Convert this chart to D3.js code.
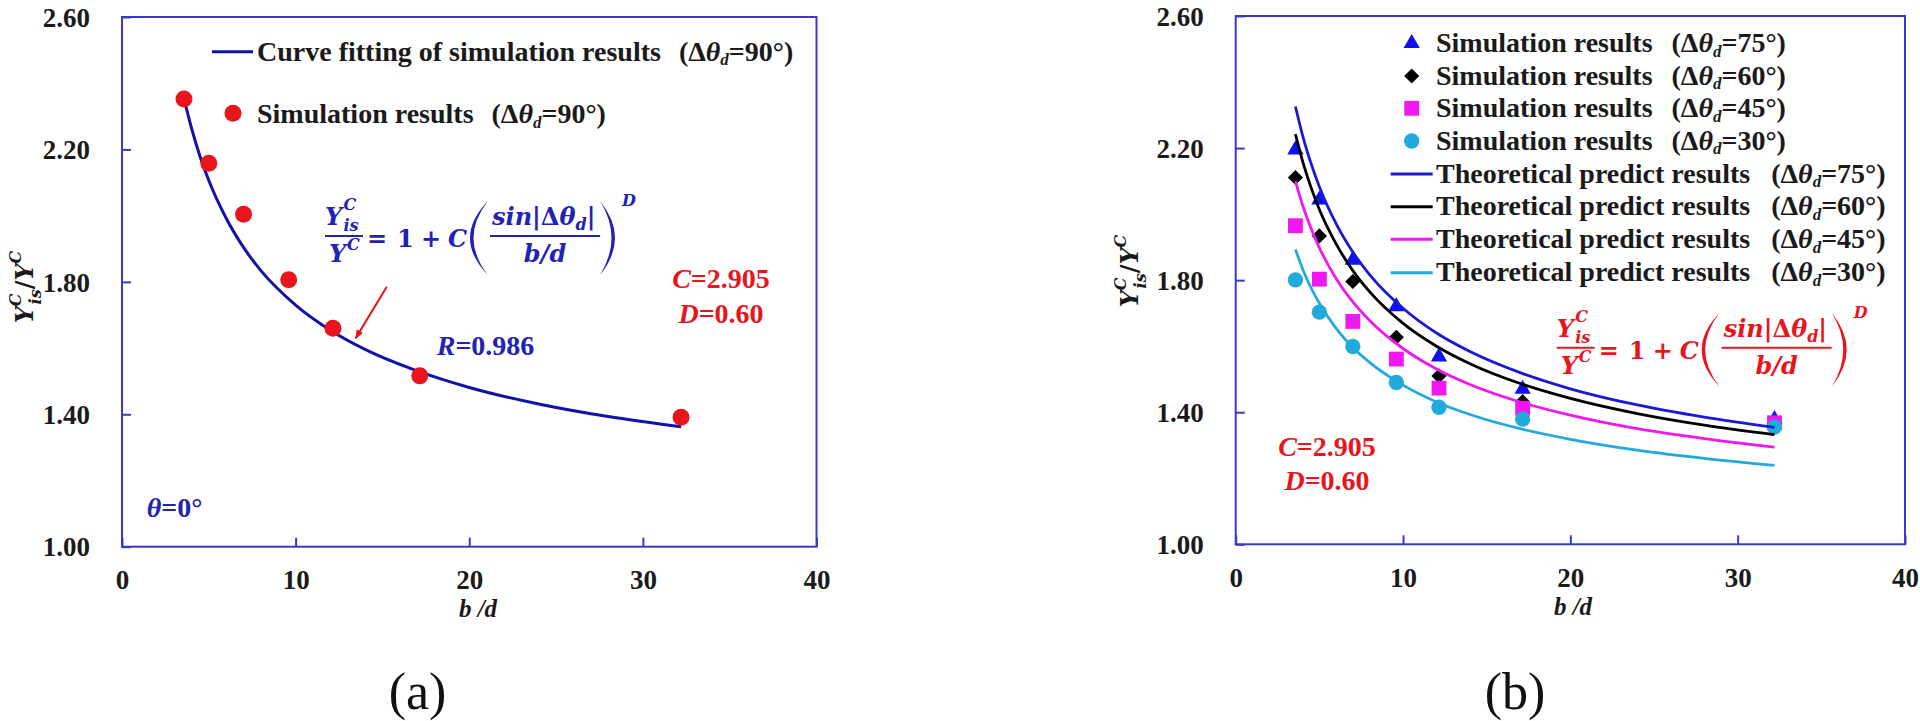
<!DOCTYPE html>
<html><head><meta charset="utf-8">
<script src="https://cdn.jsdelivr.net/npm/d3@7"></script>
<style>body{margin:0;background:#fff;} svg{display:block}</style>
</head><body>
<svg id="c" width="1920" height="721"></svg>
<script>
// ---------- data ----------
const bdSim = [3.57, 5.0, 7.0, 9.6, 12.15, 17.15, 32.2];
const sim90 = [2.352, 2.158, 2.004, 1.806, 1.660, 1.516, 1.391];
const sim75 = [2.195, 2.043, 1.861, 1.720, 1.568, 1.470, 1.378];
const sim60 = [2.111, 1.934, 1.796, 1.627, 1.510, 1.432, 1.365];
const sim45 = [1.965, 1.803, 1.675, 1.561, 1.473, 1.412, 1.368];
const sim30 = [1.801, 1.703, 1.599, 1.490, 1.415, 1.379, 1.355];
const bdFit = [3.57, 4, 4.5, 5, 6, 7, 8, 10, 12, 14, 17, 20, 24, 28, 32.2];
const fit90  = [2.354, 2.265, 2.178, 2.106, 1.992, 1.904, 1.834, 1.730, 1.654, 1.596, 1.531, 1.481, 1.431, 1.393, 1.362];
const theo75 = [2.326, 2.238, 2.154, 2.083, 1.971, 1.885, 1.817, 1.715, 1.640, 1.584, 1.520, 1.471, 1.422, 1.385, 1.354];
const theo60 = [2.242, 2.160, 2.081, 2.014, 1.910, 1.829, 1.765, 1.669, 1.600, 1.547, 1.487, 1.442, 1.396, 1.361, 1.332];
const theo45 = [2.100, 2.027, 1.957, 1.898, 1.805, 1.734, 1.678, 1.593, 1.531, 1.484, 1.431, 1.391, 1.350, 1.320, 1.294];
const theo30 = [1.893, 1.834, 1.777, 1.730, 1.654, 1.596, 1.551, 1.482, 1.431, 1.393, 1.350, 1.318, 1.285, 1.260, 1.239];
const xTicks = [0, 10, 20, 30, 40];
const yTicks = [1.0, 1.4, 1.8, 2.2, 2.6];
const angles = ["75", "60", "45", "30"];

// ---------- style ----------
const svg = d3.select('#c');
const serif = '"Liberation Serif","Times New Roman",serif';
const math = '"DejaVu Serif",serif';
const axisColor = '#3a3ac4';
const blueDark = '#1212aa';
const blueText = '#2222b4';
const red = '#e8161c';
const col75 = '#1a1ad0', col60 = '#000000', col45 = '#f018f0', col30 = '#22aadd';
const mk75 = '#1010f0';

svg.append('defs').append('marker').attr('id','arr').attr('viewBox','0 0 10 10')
  .attr('refX',9).attr('refY',5).attr('markerWidth',9).attr('markerHeight',9).attr('markerUnits','userSpaceOnUse')
  .attr('orient','auto').append('path').attr('d','M0,1 L10,5 L0,9 Z').attr('fill',red);

function panel(c) {
  const x = d3.scaleLinear().domain([0, 40]).range([c.x0, c.x1]);
  const y = d3.scaleLinear().domain([1, 2.6]).range([c.y1, c.y0]);
  const g = svg.append('g');
  g.append('rect').attr('x', c.x0).attr('y', c.y0).attr('width', c.x1 - c.x0).attr('height', c.y1 - c.y0)
    .attr('fill', 'none').attr('stroke', axisColor).attr('stroke-width', 2);
  const ax = g.append('g').attr('transform', `translate(0,${c.y1})`)
    .call(d3.axisBottom(x).tickValues(xTicks).tickSizeInner(-9).tickSizeOuter(0).tickFormat(d3.format('d')));
  ax.select('.domain').remove();
  ax.selectAll('line').attr('stroke', axisColor).attr('stroke-width', 2);
  ax.selectAll('text').attr('y', c.xLabBase - c.y1).attr('dy', 0)
    .style('font-family', serif).style('font-weight', 'bold').style('font-size', '27px').attr('fill', '#1a1a1a');
  const ay = g.append('g').attr('transform', `translate(${c.x0},0)`)
    .call(d3.axisLeft(y).tickValues(yTicks).tickSizeInner(-9).tickSizeOuter(0).tickPadding(32).tickFormat(d3.format('.2f')));
  ay.select('.domain').remove();
  ay.selectAll('line').attr('stroke', axisColor).attr('stroke-width', 2);
  ay.selectAll('text').attr('x', -32).attr('dy', '0.34em')
    .style('font-family', serif).style('font-weight', 'bold').style('font-size', '27px').attr('fill', '#1a1a1a');
  // axis titles
  g.append('text').attr('x', c.xTitleX).attr('y', c.xTitleY).attr('text-anchor', 'middle')
    .style('font-family', serif).style('font-weight', 'bold').style('font-style', 'italic').style('font-size', '25px')
    .attr('fill', '#1a1a1a').text('b /d');
  const yt = g.append('text').attr('transform', `translate(${c.yTitleX},${c.yTitleY}) rotate(-90)`)
    .attr('text-anchor', 'middle').attr('fill', '#1a1a1a')
    .style('font-family', math).style('font-weight', 'bold').style('font-style', 'italic').style('font-size', '24px');
  yt.append('tspan').text('Y');
  yt.append('tspan').attr('dy', -12).style('font-size', '16px').text('C');
  yt.append('tspan').attr('dx', -11).attr('dy', 20).style('font-size', '16px').text('is');
  yt.append('tspan').attr('dy', -8).style('font-style','normal').text('/');
  yt.append('tspan').text('Y');
  yt.append('tspan').attr('dy', -12).style('font-size', '16px').text('C');
  // panel label
  g.append('text').attr('x', c.labX).attr('y', 709).attr('text-anchor', 'middle')
    .style('font-family', serif).style('font-size', '52px').attr('fill', '#111').text(c.lab);
  return {g, x, y};
}

function parenText(g, x, yb, ang, size) {
  const t = g.append('text').attr('x', x).attr('y', yb).attr('fill', '#1a1a1a')
    .style('font-family', serif).style('font-weight', 'bold').style('font-size', size + 'px');
  t.append('tspan').text('(Δ');
  t.append('tspan').style('font-style', 'italic').text('θ');
  t.append('tspan').style('font-style', 'italic').style('font-size', '17px').attr('dy', 4.5).text('d');
  t.append('tspan').attr('dx', 0).attr('dy', -4.5).text('=' + ang + '°)');
  return t;
}
function legendRow(g, x, yb, label, ang, gap) {
  const t = g.append('text').attr('x', x).attr('y', yb).attr('fill', '#1a1a1a')
    .style('font-family', serif).style('font-weight', 'bold').style('font-size', '28px').text(label);
  const w = t.node().getComputedTextLength();
  parenText(g, x + w + gap, yb, ang, 28);
}

function equation(g, x0, y0, color) {
  const e = g.append('g').attr('fill', color).style('font-family', math).style('font-weight', 'bold');
  const t = (dx, dy, s, size, italic, anchor) => e.append('text').attr('x', x0 + dx).attr('y', y0 + dy)
    .attr('text-anchor', anchor || 'start')
    .style('font-size', size + 'px').style('font-style', italic ? 'italic' : 'normal').text(s);
  t(0, -10, 'Y', 24, true); t(18.5, -25, 'C', 16, true); t(18.5, -4, 'is', 16, true);
  e.append('line').attr('x1', x0).attr('x2', x0 + 38).attr('y1', y0 + 1).attr('y2', y0 + 1).attr('stroke', color).attr('stroke-width', 2);
  t(4, 27, 'Y', 24, true); t(22, 15, 'C', 16, true);
  t(42, 12, '=', 24, false); t(72, 12, '1', 24, false); t(96, 12, '+', 24, false); t(123, 12, 'C', 24, true);
  const top = y0 - 34, bot = y0 + 40, mid = y0 + 3;
  e.append('path').attr('d', `M${x0+163},${top} Q${x0+127},${mid} ${x0+163},${bot} Q${x0+134},${mid} ${x0+163},${top} Z`);
  e.append('path').attr('d', `M${x0+275},${top} Q${x0+305},${mid} ${x0+275},${bot} Q${x0+298},${mid} ${x0+275},${top} Z`);
  const n = e.append('text').attr('x', x0 + 167).attr('y', y0 - 10).style('font-size', '24px');
  n.append('tspan').style('font-style', 'italic').text('sin');
  n.append('tspan').text('|Δ');
  n.append('tspan').style('font-style', 'italic').text('θ');
  n.append('tspan').style('font-style', 'italic').style('font-size', '16px').attr('dy', 5).text('d');
  n.append('tspan').attr('dy', -5).text('|');
  e.append('line').attr('x1', x0 + 165).attr('x2', x0 + 275).attr('y1', y0 + 1).attr('y2', y0 + 1).attr('stroke', color).attr('stroke-width', 2);
  t(220, 27, 'b/d', 24, true, 'middle');
  t(297, -29, 'D', 16, true);
}

function cd(g, cx, y1, y2) {
  const a = g.append('text').attr('x', cx).attr('y', y1).attr('text-anchor', 'middle').attr('fill', red)
    .style('font-family', serif).style('font-weight', 'bold').style('font-size', '28px');
  a.append('tspan').style('font-style', 'italic').text('C'); a.append('tspan').text('=2.905');
  const b = g.append('text').attr('x', cx).attr('y', y2).attr('text-anchor', 'middle').attr('fill', red)
    .style('font-family', serif).style('font-weight', 'bold').style('font-size', '28px');
  b.append('tspan').style('font-style', 'italic').text('D'); b.append('tspan').text('=0.60');
}

// ---------- panel (a) ----------
const A = panel({x0: 122, x1: 816.5, y0: 17, y1: 546.7, xLabBase: 589, xTitleX: 478, xTitleY: 617,
  yTitleX: 33, yTitleY: 287, labX: 417.5, lab: '(a)'});
const lineA = d3.line().x((d, i) => A.x(bdFit[i])).y(d => A.y(d)).curve(d3.curveMonotoneX);
A.g.append('path').attr('d', lineA(fit90)).attr('fill', 'none').attr('stroke', blueDark).attr('stroke-width', 3);
A.g.selectAll('circle.s90').data(sim90).join('circle').attr('class', 's90')
  .attr('cx', (d, i) => A.x(bdSim[i])).attr('cy', d => A.y(d)).attr('r', 8.5).attr('fill', red);
// legend (a)
A.g.append('line').attr('x1', 212).attr('x2', 253).attr('y1', 51.7).attr('y2', 51.7).attr('stroke', blueDark).attr('stroke-width', 3);
legendRow(A.g, 257, 60.7, 'Curve fitting of simulation results', '90', 18);
A.g.append('circle').attr('cx', 233).attr('cy', 113.3).attr('r', 8.5).attr('fill', red);
legendRow(A.g, 257, 123, 'Simulation results', '90', 18);
equation(A.g, 325, 235, blueText);
A.g.append('line').attr('x1', A.x(15.25)).attr('y1', A.y(1.785)).attr('x2', A.x(13.46)).attr('y2', A.y(1.63))
  .attr('stroke', red).attr('stroke-width', 2).attr('marker-end', 'url(#arr)');
{
  const r = A.g.append('text').attr('x', 436.7).attr('y', 355).attr('fill', blueText)
    .style('font-family', serif).style('font-weight', 'bold').style('font-size', '28px');
  r.append('tspan').style('font-style', 'italic').text('R'); r.append('tspan').text('=0.986');
  const th = A.g.append('text').attr('x', 146.7).attr('y', 516.7).attr('fill', blueText)
    .style('font-family', serif).style('font-weight', 'bold').style('font-size', '28px');
  th.append('tspan').style('font-style', 'italic').text('θ'); th.append('tspan').text('=0°');
}
cd(A.g, 721, 288, 323);

// ---------- panel (b) ----------
const B = panel({x0: 1235.7, x1: 1905, y0: 16, y1: 544.3, xLabBase: 587, xTitleX: 1573, xTitleY: 615,
  yTitleX: 1138, yTitleY: 271, labX: 1515, lab: '(b)'});
const symTri = d3.symbol().type(d3.symbolTriangle).size(115)();
const symDia = d3.symbol().type(d3.symbolSquare).size(115)();
const symSq = d3.symbol().type(d3.symbolSquare).size(220)();
const symCir = d3.symbol().type(d3.symbolCircle).size(185)();
const simSets = [
  {v: sim75, sym: symTri, fill: mk75, rot: 0},
  {v: sim60, sym: symDia, fill: '#000', rot: 45},
  {v: sim45, sym: symSq, fill: col45, rot: 0},
  {v: sim30, sym: symCir, fill: col30, rot: 0}
];
simSets.forEach((s, k) => {
  B.g.selectAll('path.m' + k).data(s.v).join('path').attr('class', 'm' + k)
    .attr('transform', (d, i) => `translate(${B.x(bdSim[i])},${B.y(d)}) rotate(${s.rot})`)
    .attr('d', s.sym).attr('fill', s.fill);
});
const lineB = d3.line().x((d, i) => B.x(bdFit[i])).y(d => B.y(d)).curve(d3.curveMonotoneX);
const theoSets = [{v: theo75, c: col75}, {v: theo60, c: col60}, {v: theo45, c: col45}, {v: theo30, c: col30}];
theoSets.forEach(s => B.g.append('path').attr('d', lineB(s.v)).attr('fill', 'none').attr('stroke', s.c).attr('stroke-width', 2.8));
// legend (b)
const rowsY = [43.3, 76, 108.3, 141, 174, 206.7, 239.3, 272.7];
simSets.forEach((s, k) => {
  B.g.append('path').attr('transform', `translate(1411.7,${rowsY[k]}) rotate(${s.rot})`).attr('d', s.sym).attr('fill', s.fill);
  legendRow(B.g, 1436, rowsY[k] + 8.7, 'Simulation results', angles[k], 19);
});
theoSets.forEach((s, k) => {
  const yy = rowsY[k + 4];
  B.g.append('line').attr('x1', 1390.7).attr('x2', 1432.7).attr('y1', yy).attr('y2', yy).attr('stroke', s.c).attr('stroke-width', 3);
  legendRow(B.g, 1436, yy + 8.7, 'Theoretical predict results', angles[k], 21);
});
equation(B.g, 1556.7, 346.7, red);
cd(B.g, 1327, 456, 490);
</script>
</body></html>
